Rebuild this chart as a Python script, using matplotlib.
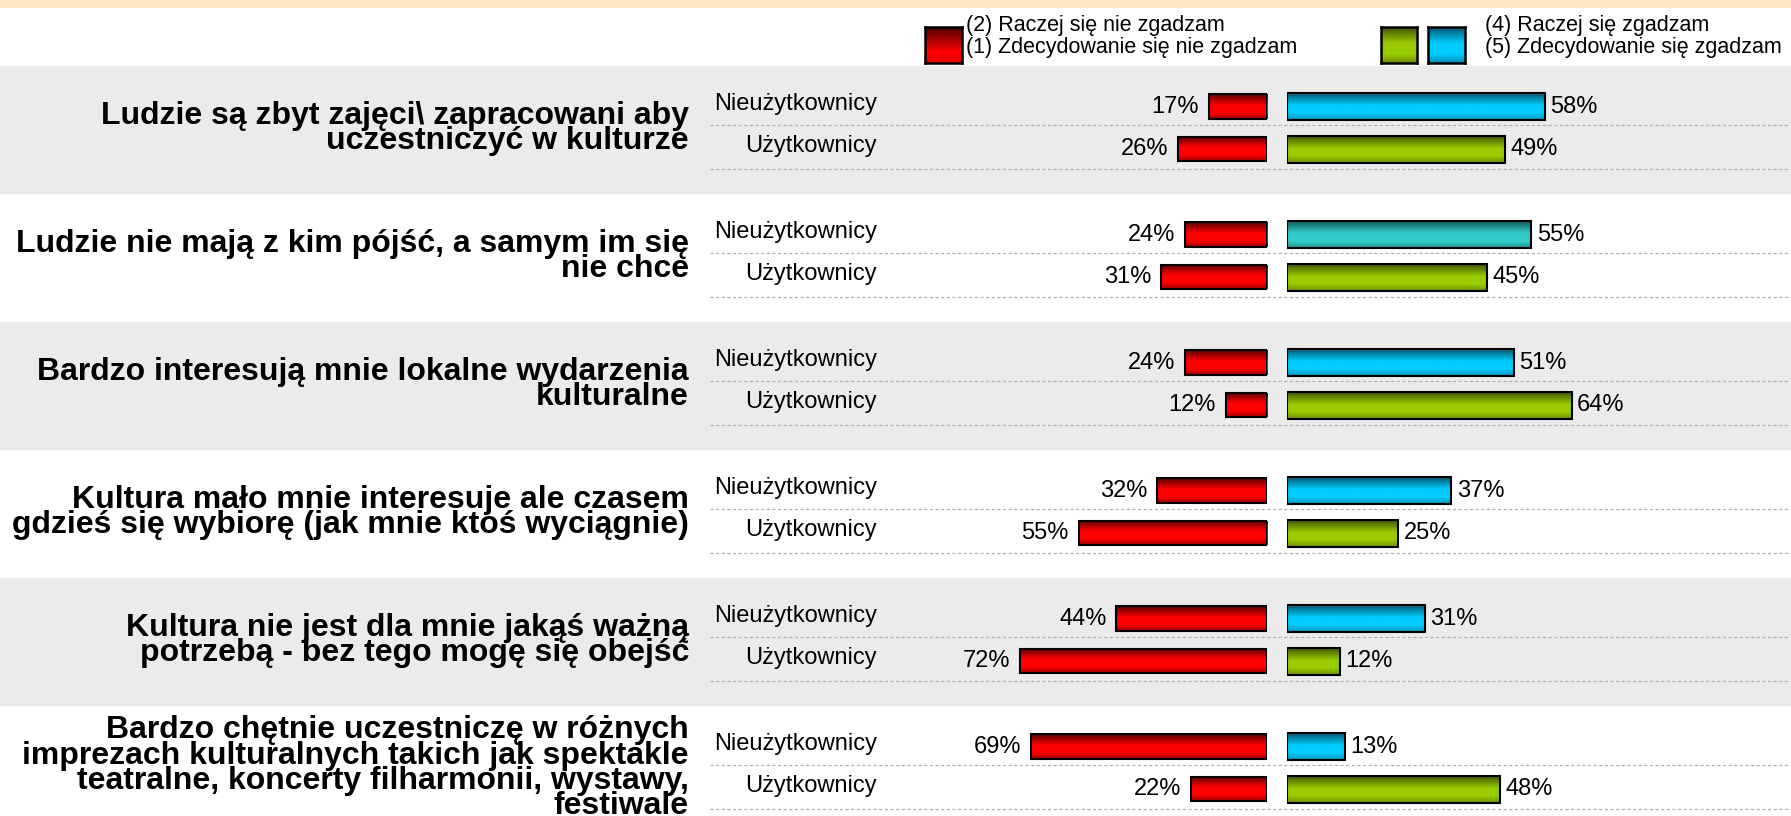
import numpy as np
import matplotlib
matplotlib.use('Agg')
import matplotlib.pyplot as plt
from matplotlib.colors import LinearSegmentedColormap
from matplotlib.patches import Rectangle

plt.rcParams['font.family'] = ['Liberation Sans', 'DejaVu Sans']

# data
statements = [
    'Ludzie są zbyt zajęci\\ zapracowani aby\nuczestniczyć w kulturze',
    'Ludzie nie mają z kim pójść, a samym im się\nnie chce',
    'Bardzo interesują mnie lokalne wydarzenia\nkulturalne',
    'Kultura mało mnie interesuje ale czasem\ngdzieś się wybiorę (jak mnie ktoś wyciągnie)',
    'Kultura nie jest dla mnie jakąś ważną\npotrzebą - bez tego mogę się obejść',
    'Bardzo chętnie uczestniczę w różnych\nimprezach kulturalnych takich jak spektakle\nteatralne, koncerty filharmonii, wystawy,\nfestiwale',
]
groups = ['Nieużytkownicy', 'Użytkownicy']
nonusers_disagree = [17, 24, 24, 32, 44, 69]
nonusers_agree = [58, 55, 51, 37, 31, 13]
users_disagree = [26, 31, 12, 55, 72, 22]
users_agree = [49, 45, 64, 25, 12, 48]
legend_left = ['(2) Raczej się nie zgadzam', '(1) Zdecydowanie się nie zgadzam']
legend_right = ['(4) Raczej się zgadzam', '(5) Zdecydowanie się zgadzam']

W, H = 1791, 816
fig = plt.figure(figsize=(W/100, H/100), dpi=100)
fig.patch.set_facecolor('white')

def fx(px):
    return px / W

def fy(py):
    return 1 - py / H

def shade_map(dark, bright, low):
    return LinearSegmentedColormap.from_list('s', [(0, dark), (0.45, bright), (0.75, bright), (1, low)])

red_map = shade_map('#5a0000', '#ff0000', '#a00000')
green_map = shade_map('#3f5500', '#99cc00', '#6a8f00')
blue_map = shade_map('#005570', '#00ccff', '#0090b8')
teal_map = shade_map('#145c5c', '#33cccc', '#239090')
top_maps = [blue_map, teal_map, blue_map, blue_map, blue_map, blue_map]
grad = np.linspace(0, 1, 120).reshape(-1, 1)

# top strip
fig.patches.append(Rectangle((0, fy(8)), 1, 8/H, transform=fig.transFigure,
                             facecolor='#ffe5c2', edgecolor='none'))

top_px = 66
unit = 128 / 3
ymax = (H - top_px) / unit
ax_h = (H - top_px) / H

bg = fig.add_axes([0, 0, 1, ax_h])
bg.set_xlim(0, W)
bg.set_ylim(ymax, 0)
bg.axis('off')

n = len(statements)
for g in range(n):
    base = g * 3
    if g % 2 == 0:
        bg.axhspan(base, base + 3, color='#ebebeb', zorder=0, lw=0)
    for off in (1.38, 2.41):
        bg.plot([710, W], [base + off, base + off], color='#b0b0b0', lw=0.9,
                ls=(0, (2.5, 2)), zorder=1)
    bg.text(689, base + 1.46, statements[g], ha='right', va='center',
            fontsize=23, fontweight='bold', linespacing=0.8)
    for r, lab in enumerate(groups):
        bg.text(877, base + 0.88 + r, lab, ha='right', va='center', fontsize=17)

red_scale = 3.42
pos_scale = 4.45
axl = fig.add_axes([fx(940), 0, fx(1266.7 - 940), ax_h])
axr = fig.add_axes([fx(1286.7), 0, fx(W - 1286.7), ax_h])
for a in (axl, axr):
    a.patch.set_alpha(0)
    a.axis('off')

def shaded_bars(ax, ys, vals, maps, h, lw=1.5):
    bars = ax.barh(ys, vals, height=h, facecolor='none', edgecolor='black', lw=lw, zorder=3)
    for b, cm in zip(bars, maps):
        x0, y0, w, hh = b.get_x(), b.get_y(), b.get_width(), b.get_height()
        im = ax.imshow(grad, cmap=cm, extent=(x0, x0 + w, y0 + hh, y0),
                       aspect='auto', zorder=2, interpolation='bilinear')
        im.set_clip_path(b)
    return bars

ys_n = np.arange(n) * 3 + 0.95
ys_u = np.arange(n) * 3 + 1.95

shaded_bars(axl, ys_n, nonusers_disagree, [red_map] * n, 0.57)
shaded_bars(axl, ys_u, users_disagree, [red_map] * n, 0.57)
shaded_bars(axr, ys_n, nonusers_agree, top_maps, 0.63)
shaded_bars(axr, ys_u, users_agree, [green_map] * n, 0.63)

for ys, vals in ((ys_n, nonusers_disagree), (ys_u, users_disagree)):
    for y, v in zip(ys, vals):
        axl.annotate(f'{v}%', (v, y), xytext=(-7, 0), textcoords='offset points',
                     ha='right', va='center', fontsize=17)
for ys, vals in ((ys_n, nonusers_agree), (ys_u, users_agree)):
    for y, v in zip(ys, vals):
        axr.annotate(f'{v}%', (v, y), xytext=(4, 0), textcoords='offset points',
                     ha='left', va='center', fontsize=17)

axl.set_xlim((1266.7 - 940) / red_scale, 0)
axr.set_xlim(0, (W - 1286.7) / pos_scale)
for a in (axl, axr):
    a.set_ylim(ymax, 0)

# legend
def swatch(x0, x1, cm):
    sa = fig.add_axes([fx(x0), fy(63), fx(x1 - x0), (63 - 27) / H])
    sa.imshow(grad, cmap=cm, aspect='auto', interpolation='bilinear')
    sa.set_xticks([])
    sa.set_yticks([])
    for s in sa.spines.values():
        s.set_linewidth(1.8)

swatch(925, 962, LinearSegmentedColormap.from_list('l', [(0, '#500000'), (0.7, '#ff0000'), (1, '#e00000')]))
swatch(1381, 1417, green_map)
swatch(1428, 1465, blue_map)

fig.text(fx(966), fy(25), legend_left[0], ha='left', va='center', fontsize=15.5)
fig.text(fx(966), fy(47.5), legend_left[1], ha='left', va='center', fontsize=15.5)
fig.text(fx(1485), fy(25), legend_right[0], ha='left', va='center', fontsize=15.5)
fig.text(fx(1485), fy(47.5), legend_right[1], ha='left', va='center', fontsize=15.5)

fig.savefig('out.png', dpi=100)
